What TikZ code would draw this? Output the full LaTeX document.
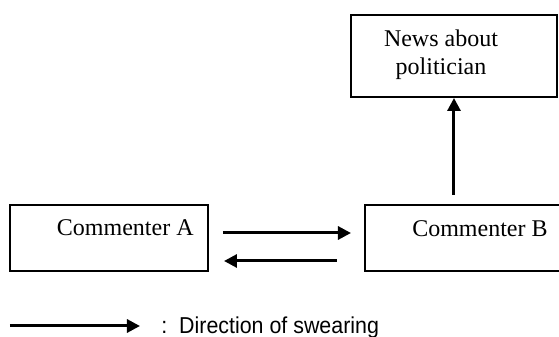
\documentclass[tikz,border=0pt]{standalone}
\usepackage{fontspec}
\setmainfont{Liberation Serif}
\newfontfamily\legendfont[FakeStretch=0.93]{Liberation Sans}
\usetikzlibrary{arrows.meta}

\begin{document}
\begin{tikzpicture}[x=0.5pt, y=0.5pt,
		cbox/.style = {draw, line width=1pt, inner sep=0pt},
		boxtext/.style = {inner sep=0pt, font=\fontsize{12}{14}\selectfont},
		swear/.style = {line width=1.5pt, -{Triangle[length=6.5pt, width=6.5pt]}}]
	\useasboundingbox (0,0) rectangle (559,337);
	\clip (0,0) rectangle (559,337);
	% the three boxes
	\node[cbox, minimum width=99pt, minimum height=33pt] (ca) at (109,99) {};
	\node[cbox, minimum width=107.5pt, minimum height=33pt] (cb) at (472.5,99) {};
	\node[cbox, minimum width=103pt, minimum height=41pt] (cn) at (454,281) {};
	\node[boxtext, anchor=base east] (la) at (194,101) {Commenter A};
	\node[boxtext, anchor=base east] (lb) at (548,100) {Commenter B};
	\node[boxtext, align=center] (ln) at (441,282) {News about\\politician};
	% swearing
	\draw[swear] ([shift={(7pt,2.5pt)}]ca.east) -- ([shift={(-6.5pt,2.5pt)}]cb.west);
	\draw[swear] ([shift={(-13.5pt,-11.5pt)}]cb.west) -- ([shift={(7.5pt,-11.5pt)}]ca.east);
	\draw[swear] (cn.south |- cb.north) ++(0,9) -- (cn.south);
	% legend
	\coordinate (k0) at (10,11);
	\coordinate (k1) at (140,11);
	\draw[swear] (k0) -- (k1);
	\node[anchor=base west, inner sep=0pt, font=\legendfont\fontsize{11.5}{13}\selectfont] (key) at (161,3) {:~~Direction of swearing};
\end{tikzpicture}
\end{document}
